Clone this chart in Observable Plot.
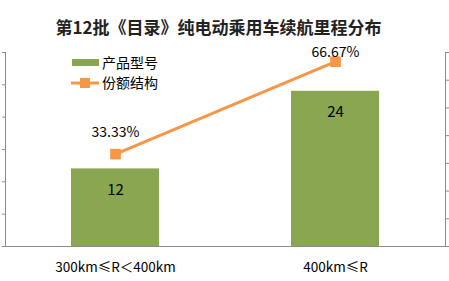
<!DOCTYPE html>
<html><head><meta charset="utf-8">
<script src="https://cdn.jsdelivr.net/npm/d3@7"></script>
<script src="https://cdn.jsdelivr.net/npm/@observablehq/plot@0.6"></script>
<style>
body{margin:0;background:#fff;}
#chart svg{display:block;}
</style></head>
<body><div id="chart"></div>
<script>
const title = "第12批《目录》纯电动乘用车续航里程分布";
const categories = ["300km≤R＜400km", "400km≤R"];
const models = [12, 24];
const shares = [33.33, 66.67];
const seriesNames = ["产品型号", "份额结构"];
const leftMax = 30, rightMax = 70;
const leftTicks = [0, 5, 10, 15, 20, 25, 30];
const rightTicks = [0, 10, 20, 30, 40, 50, 60, 70];

const green = "#8BA650", orange = "#F79646", axisGray = "#8c8c8c";
const font = "'Noto Sans CJK SC', 'Noto Sans', sans-serif";
const toLeft = v => v * leftMax / rightMax;

const data = categories.map((c, i) => ({cat: c, n: models[i], s: shares[i], sy: toLeft(shares[i])}));
const pctText = d => d.s.toFixed(2) + "%";

const chart = Plot.plot({
  width: 449, height: 281,
  marginTop: 52, marginBottom: 35, marginLeft: 5, marginRight: 4,
  style: {fontFamily: font, fontSize: "13px", color: "#000", background: "#fff"},
  x: {domain: categories, paddingInner: 0.6, paddingOuter: 0.3, label: null},
  y: {domain: [0, leftMax], label: null},
  marks: [
    Plot.barY(data, {x: "cat", y: "n", fill: green}),
    Plot.axisX({tickSize: 0, tickPadding: 16, fontSize: 13.5, fill: "#000", label: null}),
    Plot.axisY({anchor: "left", ticks: leftTicks, tickSize: 3, tickFormat: () => "", stroke: axisGray, label: null}),
    Plot.axisY({anchor: "right", ticks: rightTicks.map(toLeft), tickSize: 3, tickFormat: () => "", stroke: axisGray, label: null}),
    Plot.frame({anchor: "left", stroke: axisGray}),
    Plot.frame({anchor: "right", stroke: axisGray}),
    Plot.ruleY([0], {stroke: axisGray}),
    Plot.line(data, {x: "cat", y: "sy", stroke: orange, strokeWidth: 3}),
    Plot.dot(data, {x: "cat", y: "sy", symbol: "square", r: 6, fill: orange, stroke: "none"}),
    Plot.text(data, {x: "cat", y: "n", text: d => String(d.n), dy: 21, fontSize: 15, fill: "#000"}),
    Plot.text(data, {filter: d => d.s < 50, x: "cat", y: "sy", text: pctText, dy: -22, fontSize: 14, fill: "#000"}),
    Plot.text(data, {filter: d => d.s >= 50, x: "cat", y: "sy", text: pctText, dy: -9, fontSize: 14, fill: "#000"}),
    Plot.text([title], {frameAnchor: "top", dy: -31, dx: -7, fontSize: 17, fontWeight: "bold", fill: "#222"})
  ]
});

// legend inside the plot area
const svg = d3.select(chart);
const lg = svg.append("g").attr("font-family", font).attr("font-size", 14).attr("text-anchor", "start");
lg.append("rect").attr("x", 72).attr("y", 59).attr("width", 27).attr("height", 7).attr("fill", green);
lg.append("text").attr("x", 102).attr("y", 63).attr("dy", "0.35em").attr("text-anchor", "start").text(seriesNames[0]);
lg.append("line").attr("x1", 71).attr("x2", 99).attr("y1", 83).attr("y2", 83).attr("stroke", orange).attr("stroke-width", 3);
lg.append("rect").attr("x", 80).attr("y", 78).attr("width", 10).attr("height", 10).attr("fill", orange);
lg.append("text").attr("x", 102).attr("y", 83).attr("dy", "0.35em").attr("text-anchor", "start").text(seriesNames[1]);

document.getElementById("chart").append(chart);
</script></body></html>
